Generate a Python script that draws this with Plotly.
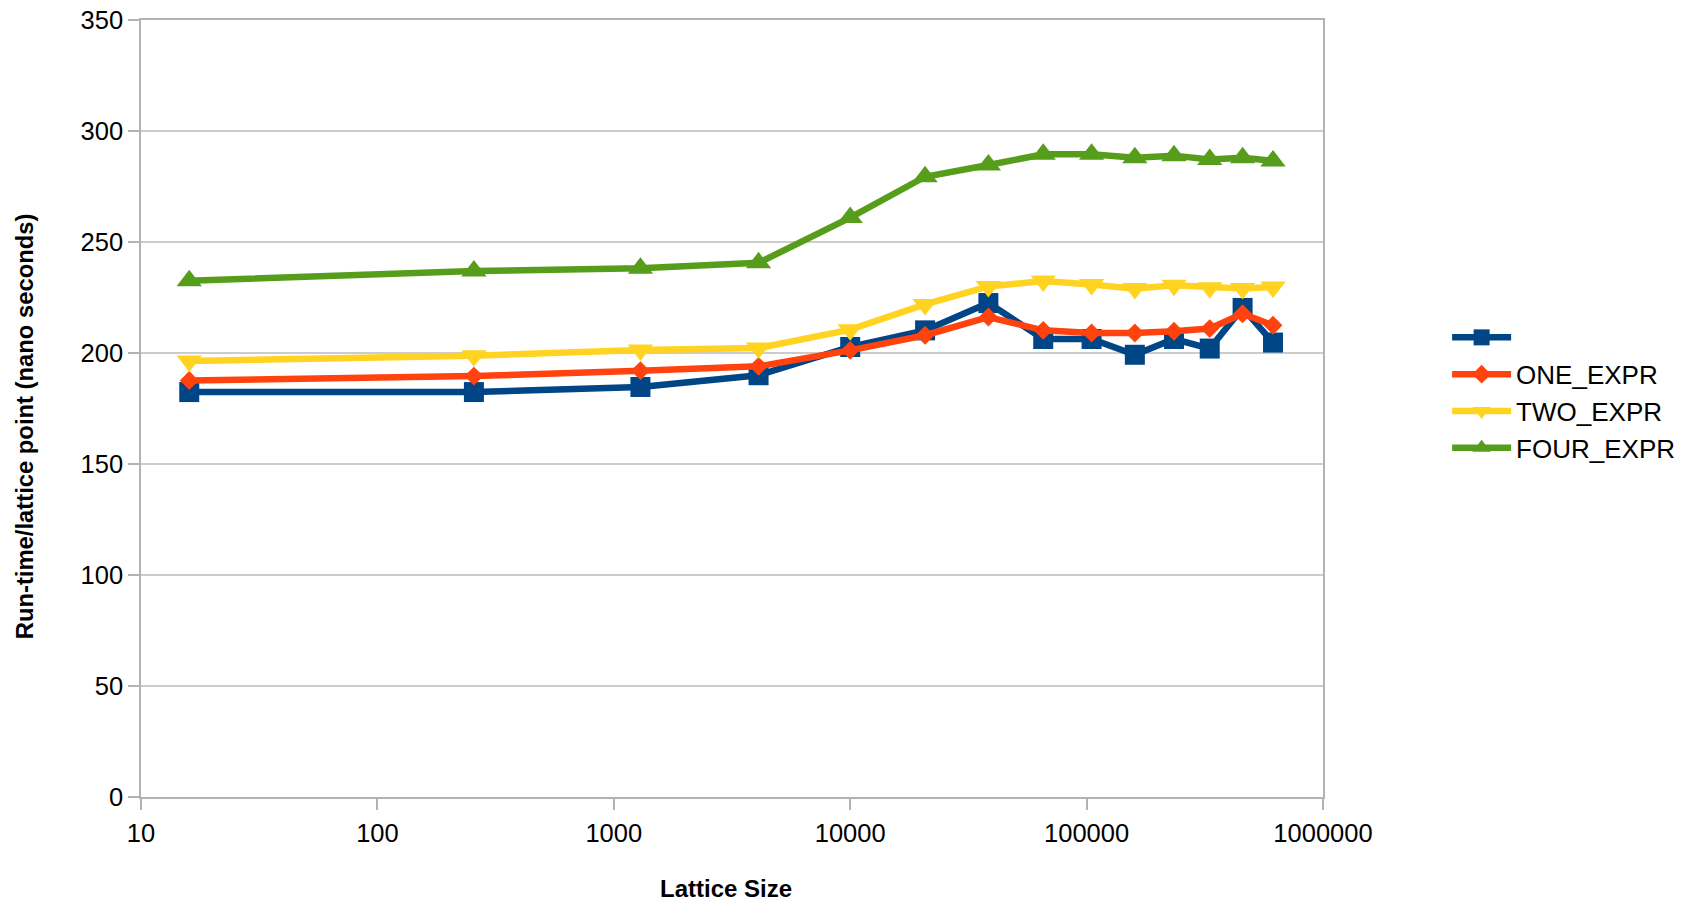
import plotly.graph_objects as go

lattice_size = [16, 256, 1296, 4096, 10000, 20736, 38416, 65536, 104976,
                160000, 234256, 331776, 456976, 614656]

series_unnamed = [182.4, 182.4, 184.7, 190.0, 202.7, 210.2, 222.5, 206.3, 206.3,
                  199.2, 206.3, 202.0, 220.3, 204.7]
one_expr = [187.6, 189.6, 192.0, 194.0, 201.2, 208.0, 216.2, 210.2, 209.0,
            209.0, 209.8, 211.0, 217.7, 212.5]
two_expr = [196.4, 198.8, 201.3, 202.2, 210.5, 221.9, 230.0, 232.4, 230.9,
            229.0, 230.5, 229.4, 229.1, 229.7]
four_expr = [232.6, 236.9, 238.2, 240.6, 261.0, 279.4, 284.7, 289.5, 289.5,
             288.0, 288.9, 287.2, 288.0, 286.5]

series_names = ["", "ONE_EXPR", "TWO_EXPR", "FOUR_EXPR"]
series_values = [series_unnamed, one_expr, two_expr, four_expr]
colors = ["#004586", "#ff420e", "#ffd320", "#579d1c"]
symbols = ["square", "diamond", "triangle-down", "triangle-up"]
marker_sizes = [20, 14.5, 22, 22]

x_tick_vals = [10, 100, 1000, 10000, 100000, 1000000]
x_tick_text = ["10", "100", "1000", "10000", "100000", "1000000"]
y_tick_vals = [0, 50, 100, 150, 200, 250, 300, 350]

x_title = "<b>Lattice Size</b>"
y_title = "<b>Run-time/lattice point (nano seconds)</b>"

FONT = "Liberation Sans, Arial, sans-serif"

fig = go.Figure()
for name, vals, c, s, ms in zip(series_names, series_values, colors, symbols, marker_sizes):
    fig.add_trace(go.Scatter(
        x=lattice_size, y=vals, name=name, mode="lines+markers",
        line=dict(color=c, width=6.5),
        marker=dict(symbol=s, size=ms, color=c, line=dict(width=0)),
    ))

fig.update_layout(
    width=1686, height=893,
    margin=dict(l=132.5, r=370.5, t=11.5, b=103.7, autoexpand=False),
    paper_bgcolor="white", plot_bgcolor="white",
    font=dict(family=FONT, size=25.5, color="black"),
    showlegend=True,
    legend=dict(x=1.105, xanchor="left", y=0.52, yanchor="middle",
                font=dict(size=26, color="black"), itemwidth=59,
                bgcolor="rgba(0,0,0,0)"),
    xaxis=dict(
        type="log", range=[1, 6],
        tickvals=x_tick_vals, ticktext=x_tick_text,
        ticks="outside", ticklen=11, tickcolor="#b3b3b3", tickwidth=1.5,
        ticklabelstandoff=2, ticklabeloverflow="allow",
        showline=True, linecolor="#b3b3b3", linewidth=1.5, mirror=True,
        showgrid=False, zeroline=False,
        tickfont=dict(size=25.5),
    ),
    yaxis=dict(
        range=[0, 350], tickvals=y_tick_vals,
        ticks="outside", ticklen=11, tickcolor="#b3b3b3", tickwidth=1.5,
        ticklabeloverflow="allow",
        showline=True, linecolor="#b3b3b3", linewidth=1.5, mirror=True,
        showgrid=True, gridcolor="#cccccc", gridwidth=1.5, zeroline=False,
        tickfont=dict(size=25.5),
    ),
    annotations=[
        dict(text=x_title, xref="paper", yref="paper", x=0.4949, y=-0.1179,
             xanchor="center", yanchor="middle", showarrow=False,
             font=dict(size=24, color="black")),
        dict(text=y_title, xref="paper", yref="paper", x=-0.0986, y=0.4777,
             xanchor="center", yanchor="middle", textangle=-90, showarrow=False,
             font=dict(size=23.8, color="black")),
    ],
)

fig.write_html("out.html")
